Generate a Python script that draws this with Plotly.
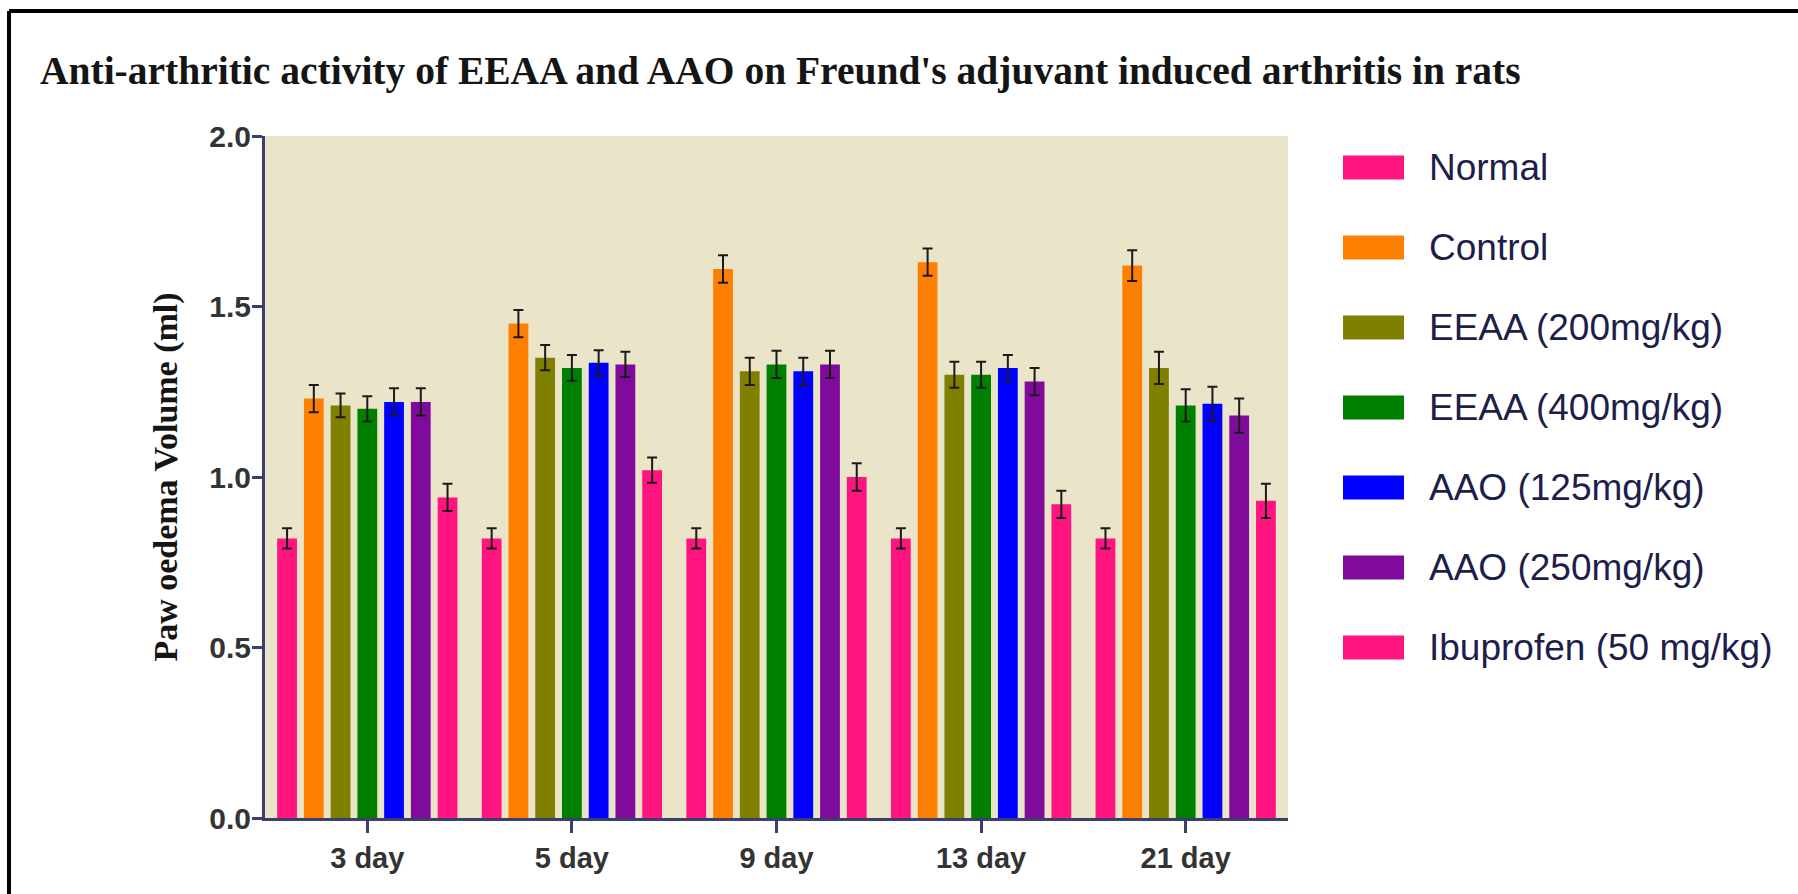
import plotly.graph_objects as go

# ---------------- data ----------------
days = ["3 day", "5 day", "9 day", "13 day", "21 day"]
series_names = ["Normal", "Control", "EEAA (200mg/kg)", "EEAA (400mg/kg)",
                "AAO (125mg/kg)", "AAO (250mg/kg)", "Ibuprofen (50 mg/kg)"]

normal = [0.82, 0.82, 0.82, 0.82, 0.82]
control = [1.23, 1.45, 1.61, 1.63, 1.62]
eeaa200 = [1.21, 1.35, 1.31, 1.30, 1.32]
eeaa400 = [1.20, 1.32, 1.33, 1.30, 1.21]
aao125 = [1.22, 1.335, 1.31, 1.32, 1.215]
aao250 = [1.22, 1.33, 1.33, 1.28, 1.18]
ibuprofen = [0.94, 1.02, 1.00, 0.92, 0.93]

normal_err = [0.03, 0.03, 0.03, 0.03, 0.03]
control_err = [0.04, 0.04, 0.04, 0.04, 0.045]
eeaa200_err = [0.035, 0.037, 0.04, 0.038, 0.047]
eeaa400_err = [0.037, 0.038, 0.04, 0.038, 0.047]
aao125_err = [0.04, 0.037, 0.04, 0.038, 0.05]
aao250_err = [0.04, 0.037, 0.04, 0.04, 0.05]
ibuprofen_err = [0.04, 0.037, 0.04, 0.04, 0.05]

y_ticks = [0.0, 0.5, 1.0, 1.5, 2.0]

values = [normal, control, eeaa200, eeaa400, aao125, aao250, ibuprofen]
errors = [normal_err, control_err, eeaa200_err, eeaa400_err, aao125_err, aao250_err, ibuprofen_err]
colors = ["#FF1480", "#FF8000", "#808000", "#008000", "#0000FF", "#7F0A9C", "#FF1480"]

# ---------------- layout geometry ----------------
W, H = 1798, 894
L, R, T, B = 265, 1288, 136, 818


def px(x):
    return (x - L) / (R - L)


def py(y):
    return (B - y) / (B - T)


AXIS_COLOR = "#3C3F6B"
SANS = "Liberation Sans, Arial, sans-serif"
SERIF = "Liberation Serif, Times New Roman, serif"

fig = go.Figure()
for name, vals, errs, col in zip(series_names, values, errors, colors):
    fig.add_trace(go.Bar(
        name=name, x=days, y=vals, marker=dict(color=col, line=dict(width=0)),
        error_y=dict(type="data", array=errs, visible=True, color="#1a1a1a",
                     thickness=2, width=5),
    ))

# custom legend (swatches + labels)
shapes = []
annotations = []
leg_y0, leg_dy = 167.5, 80.0
for i, (name, col) in enumerate(zip(series_names, colors)):
    yc = leg_y0 + i * leg_dy
    shapes.append(dict(type="rect", xref="paper", yref="paper",
                       x0=px(1343), x1=px(1404), y0=py(yc + 12), y1=py(yc - 12),
                       fillcolor=col, line=dict(width=0)))
    annotations.append(dict(text=name, xref="paper", yref="paper",
                            x=px(1427), y=py(yc), xanchor="left", yanchor="middle",
                            showarrow=False,
                            font=dict(family=SANS, size=37, color="#1E1E4A")))

# outer frame (left and top lines)
shapes.append(dict(type="line", xref="paper", yref="paper",
                   x0=px(9), x1=px(9), y0=py(11), y1=py(900),
                   line=dict(color="black", width=4)))
shapes.append(dict(type="line", xref="paper", yref="paper",
                   x0=px(9), x1=px(1800), y0=py(11), y1=py(11),
                   line=dict(color="black", width=4)))

fig.update_layout(
    width=W, height=H,
    margin=dict(l=L, r=W - R, t=T, b=H - B, pad=0),
    paper_bgcolor="white", plot_bgcolor="#EAE4C9",
    barmode="group", bargap=0.085, bargroupgap=0.26,
    showlegend=False,
    title=dict(text="Anti-arthritic activity of EEAA and AAO on Freund's adjuvant induced arthritis in rats",
               x=40 / W, xanchor="left", xref="container",
               y=1 - 70 / H, yanchor="middle",
               font=dict(family=SERIF, size=39.5, color="#151515", weight="bold")),
    shapes=shapes, annotations=annotations,
    xaxis=dict(type="category", range=[-0.5, 4.5], showline=True, linecolor=AXIS_COLOR,
               linewidth=3, ticks="outside", ticklen=12, tickwidth=3, tickcolor=AXIS_COLOR,
               showgrid=False, zeroline=False, automargin=False,
               tickfont=dict(family=SANS, size=29, color="#333333", weight="bold")),
    yaxis=dict(range=[0, 2], tickvals=y_ticks, ticktext=[f"{v:.1f}" for v in y_ticks],
               showline=True, linecolor=AXIS_COLOR, linewidth=3,
               ticks="outside", ticklen=10, tickwidth=3, tickcolor=AXIS_COLOR,
               ticklabelstandoff=-5,
               showgrid=False, zeroline=False, automargin=False,
               tickfont=dict(family=SANS, size=30, color="#333333", weight="bold"),
               title=dict(text="Paw oedema Volume (ml)", standoff=22,
                          font=dict(family=SERIF, size=34, color="#151515", weight="bold"))),
)

fig.write_html("out.html", config={"displayModeBar": False},
               post_script="document.body.style.margin='0';document.body.style.overflow='hidden';")
